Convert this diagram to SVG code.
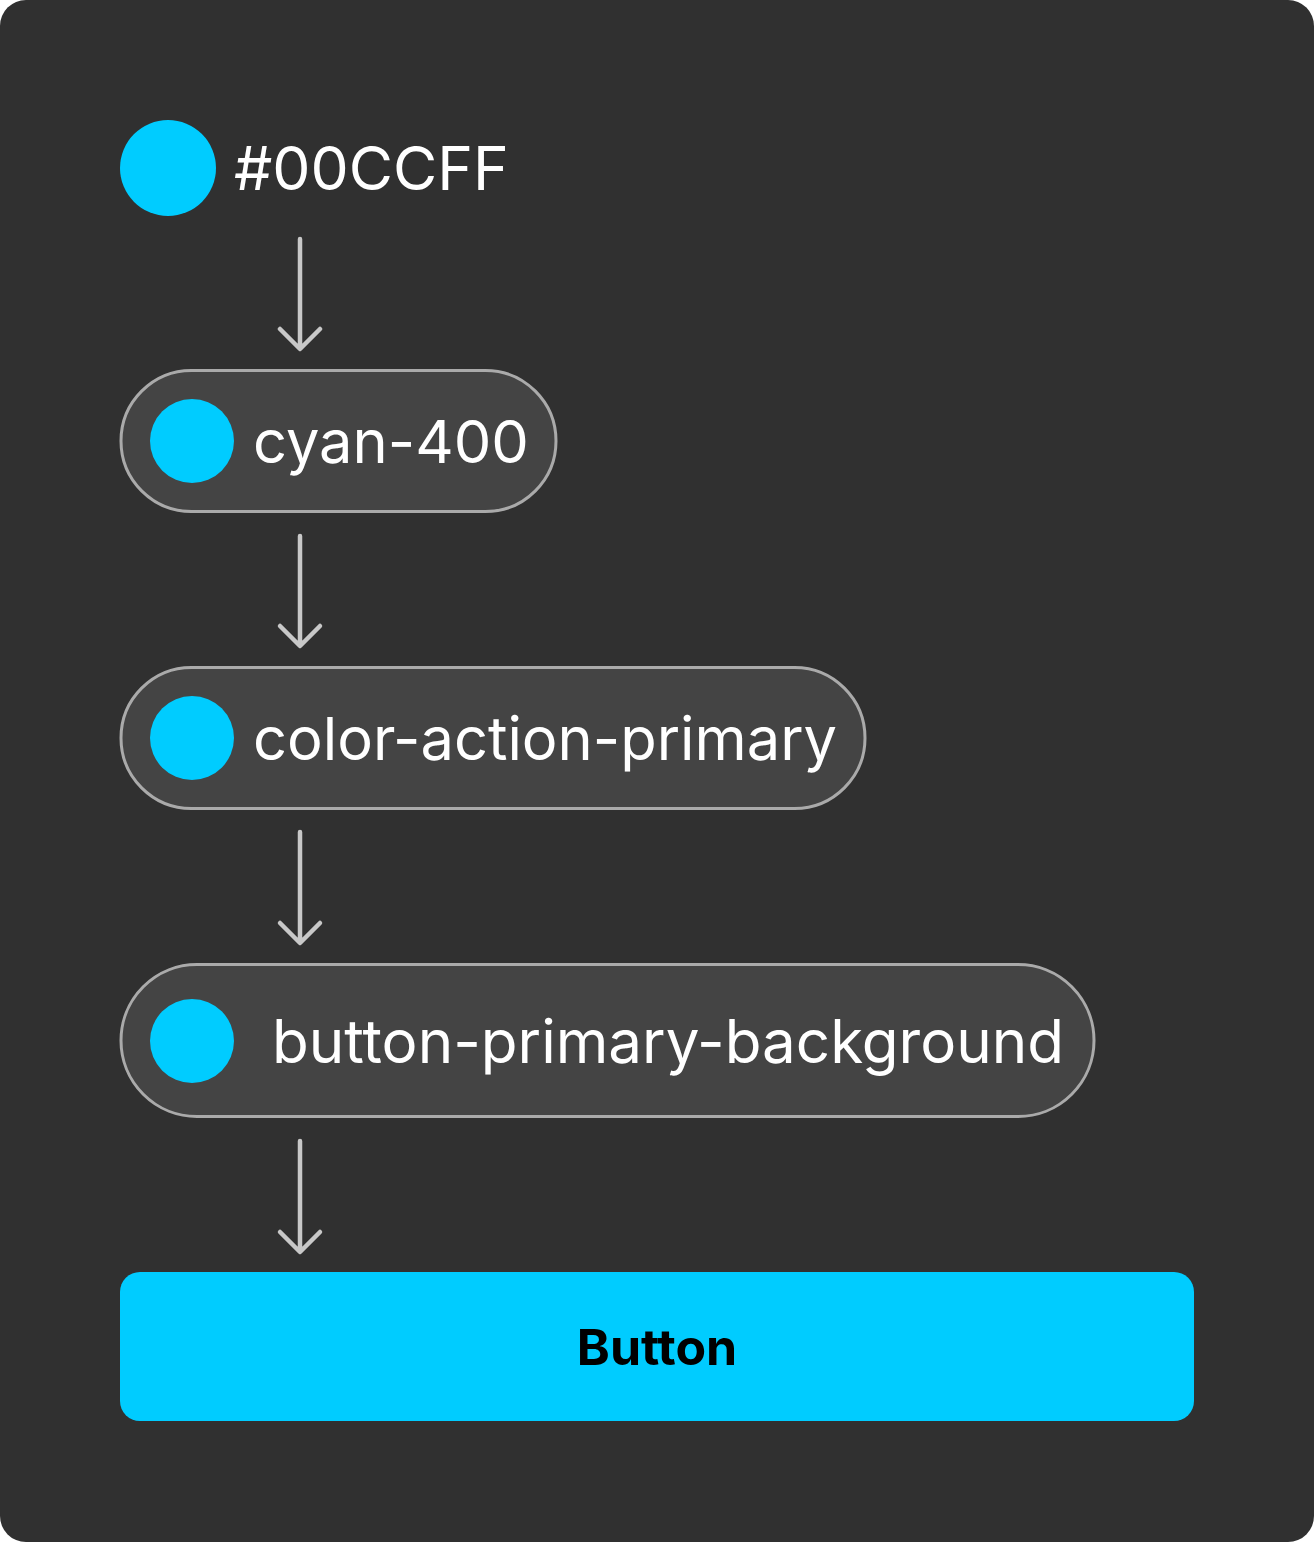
<svg xmlns="http://www.w3.org/2000/svg" width="1314" height="1542" viewBox="0 0 1314 1542">
<defs>
<style>
.bg{fill:#303030}
.dot{fill:#00CCFF}
.pill{fill:#444444;stroke:#AAAAAA;stroke-width:3}
.lbl{font-family:Inter,"Liberation Sans",sans-serif;font-size:59.6px;fill:#FFFFFF}
.conn{fill:none;stroke:#C8C8C8;stroke-width:4.5;stroke-linecap:round;stroke-linejoin:round}
.btn{fill:#00CCFF}
.btnlbl{font-family:Inter,"Liberation Sans",sans-serif;font-size:50px;font-weight:700;fill:#000000}
</style>
</defs>
<rect class="bg" x="0" y="0" width="1314" height="1542" rx="26"/>
<g id="hex">
<circle class="dot" cx="168" cy="168" r="48"/>
<text class="lbl" x="234" y="190" style="font-size:60.6px">#00CCFF</text>
</g>
<g id="cyan-400">
<rect class="pill" x="121" y="370.5" width="435" height="141" rx="70.5"/>
<circle class="dot" cx="192" cy="441" r="42"/>
<text class="lbl" x="253" y="463">cyan-400</text>
</g>
<g id="color-action-primary">
<rect class="pill" x="121" y="667.5" width="744" height="141" rx="70.5"/>
<circle class="dot" cx="192" cy="738" r="42"/>
<text class="lbl" x="253" y="760">color-action-primary</text>
</g>
<g id="button-primary-background">
<rect class="pill" x="121" y="964.5" width="973" height="152" rx="76"/>
<circle class="dot" cx="192" cy="1041" r="42"/>
<text class="lbl" x="272" y="1063" style="font-size:60.1px">button-primary-background</text>
</g>
<g id="button">
<rect class="btn" x="120" y="1272" width="1074" height="149" rx="20"/>
<text class="btnlbl" x="657" y="1365" text-anchor="middle">Button</text>
</g>
<g id="connectors">
<path class="conn" d="M300 239V348M280 329L300 349L320 329"/>
<path class="conn" d="M300 536V645M280 626L300 646L320 626"/>
<path class="conn" d="M300 832V942M280 923L300 943L320 923"/>
<path class="conn" d="M300 1141V1250M280 1232L300 1252L320 1232"/>
</g>
</svg>
